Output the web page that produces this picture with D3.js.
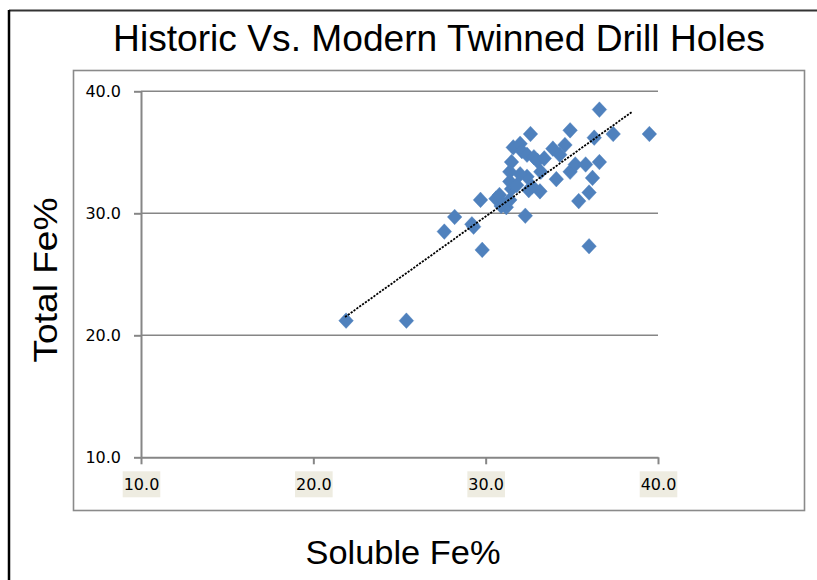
<!DOCTYPE html>
<html>
<head>
<meta charset="utf-8">
<script src="https://cdn.jsdelivr.net/npm/d3@7"></script>
<style>
  html, body { margin: 0; padding: 0; background: #fff; }
  svg { display: block; }
</style>
</head>
<body>
<svg id="chart" width="817" height="580"></svg>
<script>
// ---- data ----
const solubleFe = [21.9, 25.4, 27.6, 28.2, 29.2, 29.3, 29.7, 29.8, 30.6, 30.8,
                   31.0, 31.2, 31.4, 32.3, 31.5, 31.4, 31.4, 31.5, 31.6, 32.0,
                   32.1, 32.4, 32.6, 32.8, 33.0, 32.4, 32.0, 32.5, 33.15, 33.2,
                   33.9, 34.3, 34.6, 34.1, 34.9, 34.9, 35.2, 35.8, 36.3, 36.6,
                   37.4, 39.5, 36.6, 36.2, 36.0, 35.4, 36.0, 32.7, 33.4, 31.8, 30.9];
const totalFe   = [21.2, 21.2, 28.5, 29.7, 29.1, 28.9, 31.1, 27.0, 31.2, 31.5,
                   30.8, 30.5, 31.1, 29.8, 32.0, 32.6, 33.4, 34.2, 35.4, 35.7,
                   35.1, 34.8, 36.5, 34.6, 34.3, 33.0, 33.2, 31.9, 31.8, 33.4,
                   35.3, 34.8, 35.6, 32.8, 33.4, 36.8, 34.0, 34.0, 36.2, 38.5,
                   36.5, 36.5, 34.2, 32.9, 31.7, 31.0, 27.3, 32.2, 34.5, 32.3, 30.6];
const trendX = [21.84, 38.51];
const trendY = [21.5, 38.33];
const xTicks = [10, 20, 30, 40];
const yTicks = [10, 20, 30, 40];
const titleText = "Historic Vs. Modern Twinned Drill Holes";
const xTitleText = "Soluble Fe%";
const yTitleText = "Total Fe%";

// ---- drawing ----
const svg = d3.select("#chart");
const blue = "#4F81BD";
const axisGray = "#868686";
const x = d3.scaleLinear().domain([10, 40]).range([141, 658]);
const y = d3.scaleLinear().domain([10, 40]).range([457.3, 91.3]);

// outer frame
svg.append("line").attr("x1", 9).attr("x2", 817).attr("y1", 10.5).attr("y2", 10.5)
  .attr("stroke", "#333").attr("stroke-width", 2);
svg.append("line").attr("x1", 9).attr("x2", 9).attr("y1", 10).attr("y2", 580)
  .attr("stroke", "#000").attr("stroke-width", 2.5);

// plot area box
svg.append("rect").attr("x", 73.5).attr("y", 70.5).attr("width", 731).attr("height", 440)
  .attr("fill", "none").attr("stroke", "#8a8a8a").attr("stroke-width", 1.6);

// gridlines
svg.append("g").selectAll("line").data(yTicks.filter(d => d > 10)).join("line")
  .attr("x1", x(10)).attr("x2", x(40))
  .attr("y1", d => y(d)).attr("y2", d => y(d))
  .attr("stroke", axisGray).attr("stroke-width", 1.5);

// condensed text: font-size sets height, horizontal scale fits target width
function condensed(cx, cy, rot, txt, size, targetW) {
  const g = svg.append("g").attr("transform", `translate(${cx},${cy}) rotate(${rot})`);
  const t = g.append("text").attr("text-anchor", "middle")
    .attr("font-family", "'Liberation Sans Narrow', 'Liberation Sans', Arial, sans-serif")
    .attr("font-size", size).attr("fill", "#000").text(txt);
  const w = t.node().getComputedTextLength();
  t.attr("transform", `scale(${targetW / w},1)`);
  return t;
}

// axes
const yAxis = svg.append("g").attr("transform", `translate(${x(10)},0)`)
  .call(d3.axisLeft(y).tickValues(yTicks).tickSize(7).tickSizeOuter(0).tickPadding(13).tickFormat(d3.format(".1f")));
const xAxis = svg.append("g").attr("transform", `translate(0,${y(10)})`)
  .call(d3.axisBottom(x).tickValues(xTicks).tickSize(7).tickSizeOuter(0).tickPadding(14).tickFormat(d3.format(".1f")));
[yAxis, xAxis].forEach(g => {
  g.select(".domain").attr("stroke", axisGray).attr("stroke-width", 2);
  g.selectAll(".tick line").attr("stroke", axisGray).attr("stroke-width", 2);
  g.selectAll(".tick text").attr("font-family", "DejaVu Sans, Verdana, sans-serif")
    .attr("font-size", 16).attr("fill", "#000");
});
// beige label boxes for x tick labels
xAxis.selectAll(".tick").each(function() {
  const t = d3.select(this).select("text");
  const bb = t.node().getBBox();
  d3.select(this).insert("rect", "text")
    .attr("x", bb.x - 1).attr("y", 14).attr("width", bb.width + 2).attr("height", 26)
    .attr("fill", "#EEECE1");
});

// points
const pts = solubleFe.map((v, i) => [v, totalFe[i]]);
svg.append("g").selectAll("path").data(pts).join("path")
  .attr("transform", d => `translate(${x(d[0])},${y(d[1])})`)
  .attr("d", "M0,-7.8L7.3,0L0,7.8L-7.3,0Z")
  .attr("fill", blue).attr("stroke", blue).attr("stroke-opacity", 0.5).attr("stroke-width", 0.8);

// trendline
svg.append("line")
  .attr("x1", x(trendX[0])).attr("y1", y(trendY[0]))
  .attr("x2", x(trendX[1])).attr("y2", y(trendY[1]))
  .attr("stroke", "#000").attr("stroke-width", 1.8).attr("stroke-dasharray", "2.2,1.3");

// titles
condensed(439, 51, 0, titleText, 36, 652);
condensed(403, 564, 0, xTitleText, 33, 195);
condensed(57, 280, -90, yTitleText, 33, 165);
</script>
</body>
</html>
